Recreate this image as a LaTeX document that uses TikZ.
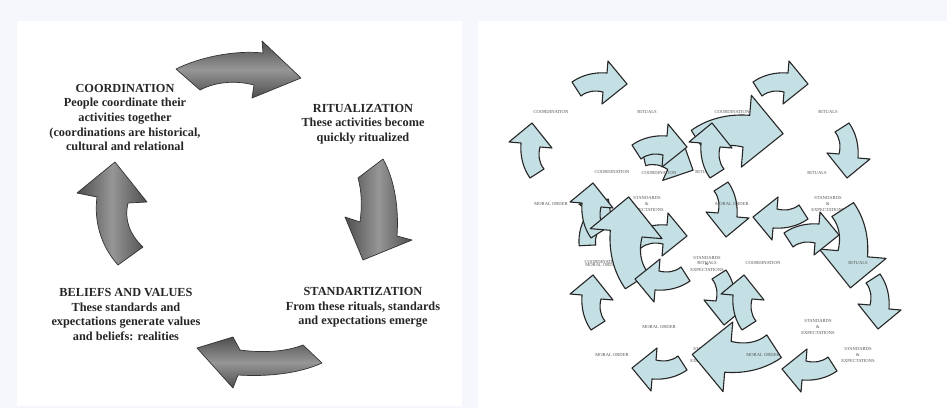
\documentclass[tikz,border=0pt]{standalone}
\usepackage{fontspec}
\setmainfont{Liberation Serif}
\definecolor{bg}{RGB}{245,247,252}
\definecolor{cyanfill}{RGB}{196,224,228}
\definecolor{gdark}{RGB}{78,78,78}
\definecolor{glight}{RGB}{150,150,150}
\definecolor{lbl}{RGB}{85,85,85}
\tikzset{
 garrow/.style={draw=black!80, line width=0.7pt, line join=round},
 carrowstyle/.style={draw=black!85, line width=1.1pt, fill=cyanfill, line join=round},
 bigtext/.style={font=\fontsize{12.3}{14.6}\selectfont\bfseries, align=center, text=black!85, inner sep=0pt},
 tinylbl/.style={font=\fontsize{4.6}{6}\selectfont, text=lbl, align=center, inner sep=0pt},
}
\newcommand\cyarrow[4]{\draw[carrowstyle, shift={(#1,#2)}, rotate=#3, scale=#4] (-28,-1) .. controls (-18,-8) and (-6,-11) .. (7,-10) -- (8,-22) -- (27,1) -- (2,21) -- (3,9) .. controls (-5,7) and (-13,8) .. (-19,13) -- cycle;}
\newcommand\sande{STANDARDS\\\&\\EXPECTATIONS}
\begin{document}
\begin{tikzpicture}[x=1pt,y=-1pt]
\useasboundingbox (0,0) rectangle (947,408);
\fill[bg] (0,0) rectangle (947,408);
\fill[white] (17,21) rectangle (462,406);
\fill[white] (478,21) rectangle (947,408);

% ---------- left panel ----------
\draw[garrow, top color=gdark, bottom color=gdark, middle color=glight]
 (176,69) .. controls (200,57) and (235,50) .. (263,53) -- (262,41) -- (301,78) -- (252,98) -- (254,85) .. controls (235,80) and (215,82) .. (200,90) -- cycle;
\draw[garrow, left color=gdark, right color=gdark, middle color=glight]
 (383,159) .. controls (395,180) and (399,210) .. (397,236) -- (412,240) -- (363,260) -- (345,217) -- (360,222) .. controls (362,207) and (362,192) .. (358,178) -- cycle;
\draw[garrow, top color=gdark, bottom color=gdark, middle color=glight]
 (303,345) .. controls (285,352) and (262,353) .. (240,350) -- (233,337) -- (197,348) -- (233,388) -- (238,375) .. controls (270,377) and (300,373) .. (322,363) -- cycle;
\draw[garrow, left color=gdark, right color=gdark, middle color=glight]
 (118,265) .. controls (100,245) and (94,220) .. (97,197) -- (77,193) -- (115,162) -- (147,202) -- (128,203) .. controls (124,220) and (130,235) .. (143,247) -- cycle;

\node[bigtext] (coord) at (125,117.5) {COORDINATION\\People coordinate their\\activities together\\(coordinations are historical,\\cultural and relational};
\node[bigtext] (ritual) at (363,124) {RITUALIZATION\\These activities become\\quickly ritualized};
\node[bigtext] (belief) at (126,314.5) {BELIEFS AND VALUES\\These standards and\\expectations generate values\\and beliefs: realities};
\node[bigtext] (stand) at (363,307.5) {STANDARTIZATION\\From these rituals, standards\\and expectations emerge};

% ---------- right panel ----------
\node[tinylbl] (l1) at (551,112) {COORDINATION};
\node[tinylbl] (l2) at (647,112) {RITUALS};
\node[tinylbl] (l4) at (828,112) {RITUALS};
\node[tinylbl] (l5) at (612,172) {COORDINATION};
\node[tinylbl] (l7) at (705,172) {RITUALS};
\node[tinylbl] (l8) at (817,173) {RITUALS};
\node[tinylbl] (l9) at (551,204) {MORAL ORDER};
\node[tinylbl] (l10) at (647,204) {\sande};
\node[tinylbl] (l12) at (828,204) {\sande};
\node[tinylbl] (l13a) at (602,262) {COORDINATION};
\node[tinylbl] (l13b) at (602,264.5) {MORAL ORDER};
\node[tinylbl] (l20) at (707,355) {\sande};

\cyarrow{600}{83}{0}{1}
\cyarrow{531}{150}{90}{1}
\cyarrow{781}{83}{0}{1}
\cyarrow{848}{151}{-90}{1}
\cyarrow{668}{160}{-20}{1}
\cyarrow{660}{146}{0}{1}
\cyarrow{738}{132}{0}{1.67}
\cyarrow{711}{150}{90}{1}
\cyarrow{727}{210}{-90}{1}
\cyarrow{780}{218}{180}{1}
\cyarrow{852}{246}{-90}{1.55}
\cyarrow{812}{234}{0}{1}
\cyarrow{879}{302}{-90}{1}
\cyarrow{594}{222}{60}{1}
\cyarrow{592}{210}{90}{1}
\cyarrow{660}{235}{0}{1}
\cyarrow{627}{242}{90}{1.67}
\cyarrow{662}{280}{180}{1}
\cyarrow{592}{302}{90}{1}
\cyarrow{725}{298}{-90}{1}
\cyarrow{743}{302}{90}{1}
\cyarrow{736}{356}{180}{1.62}
\cyarrow{659}{369}{180}{1}
\cyarrow{809}{370}{180}{1}

\node[tinylbl] (l3) at (732,112) {COORDINATION};
\node[tinylbl] (l6) at (659,173) {COORDINATION};
\node[tinylbl] (l11) at (732,204) {MORAL ORDER};
\node[tinylbl] (l14a) at (707,264) {\sande};
\node[tinylbl] (l14b) at (707,263) {RITUALS};
\node[tinylbl] (l15) at (763,263) {COORDINATION};
\node[tinylbl] (l16) at (858,263) {RITUALS};
\node[tinylbl] (l17) at (659,327) {MORAL ORDER};
\node[tinylbl] (l18) at (818,327) {\sande};
\node[tinylbl] (l19) at (612,355) {MORAL ORDER};
\node[tinylbl] (l21) at (763,355) {MORAL ORDER};
\node[tinylbl] (l22) at (858,355) {\sande};
\end{tikzpicture}
\end{document}
